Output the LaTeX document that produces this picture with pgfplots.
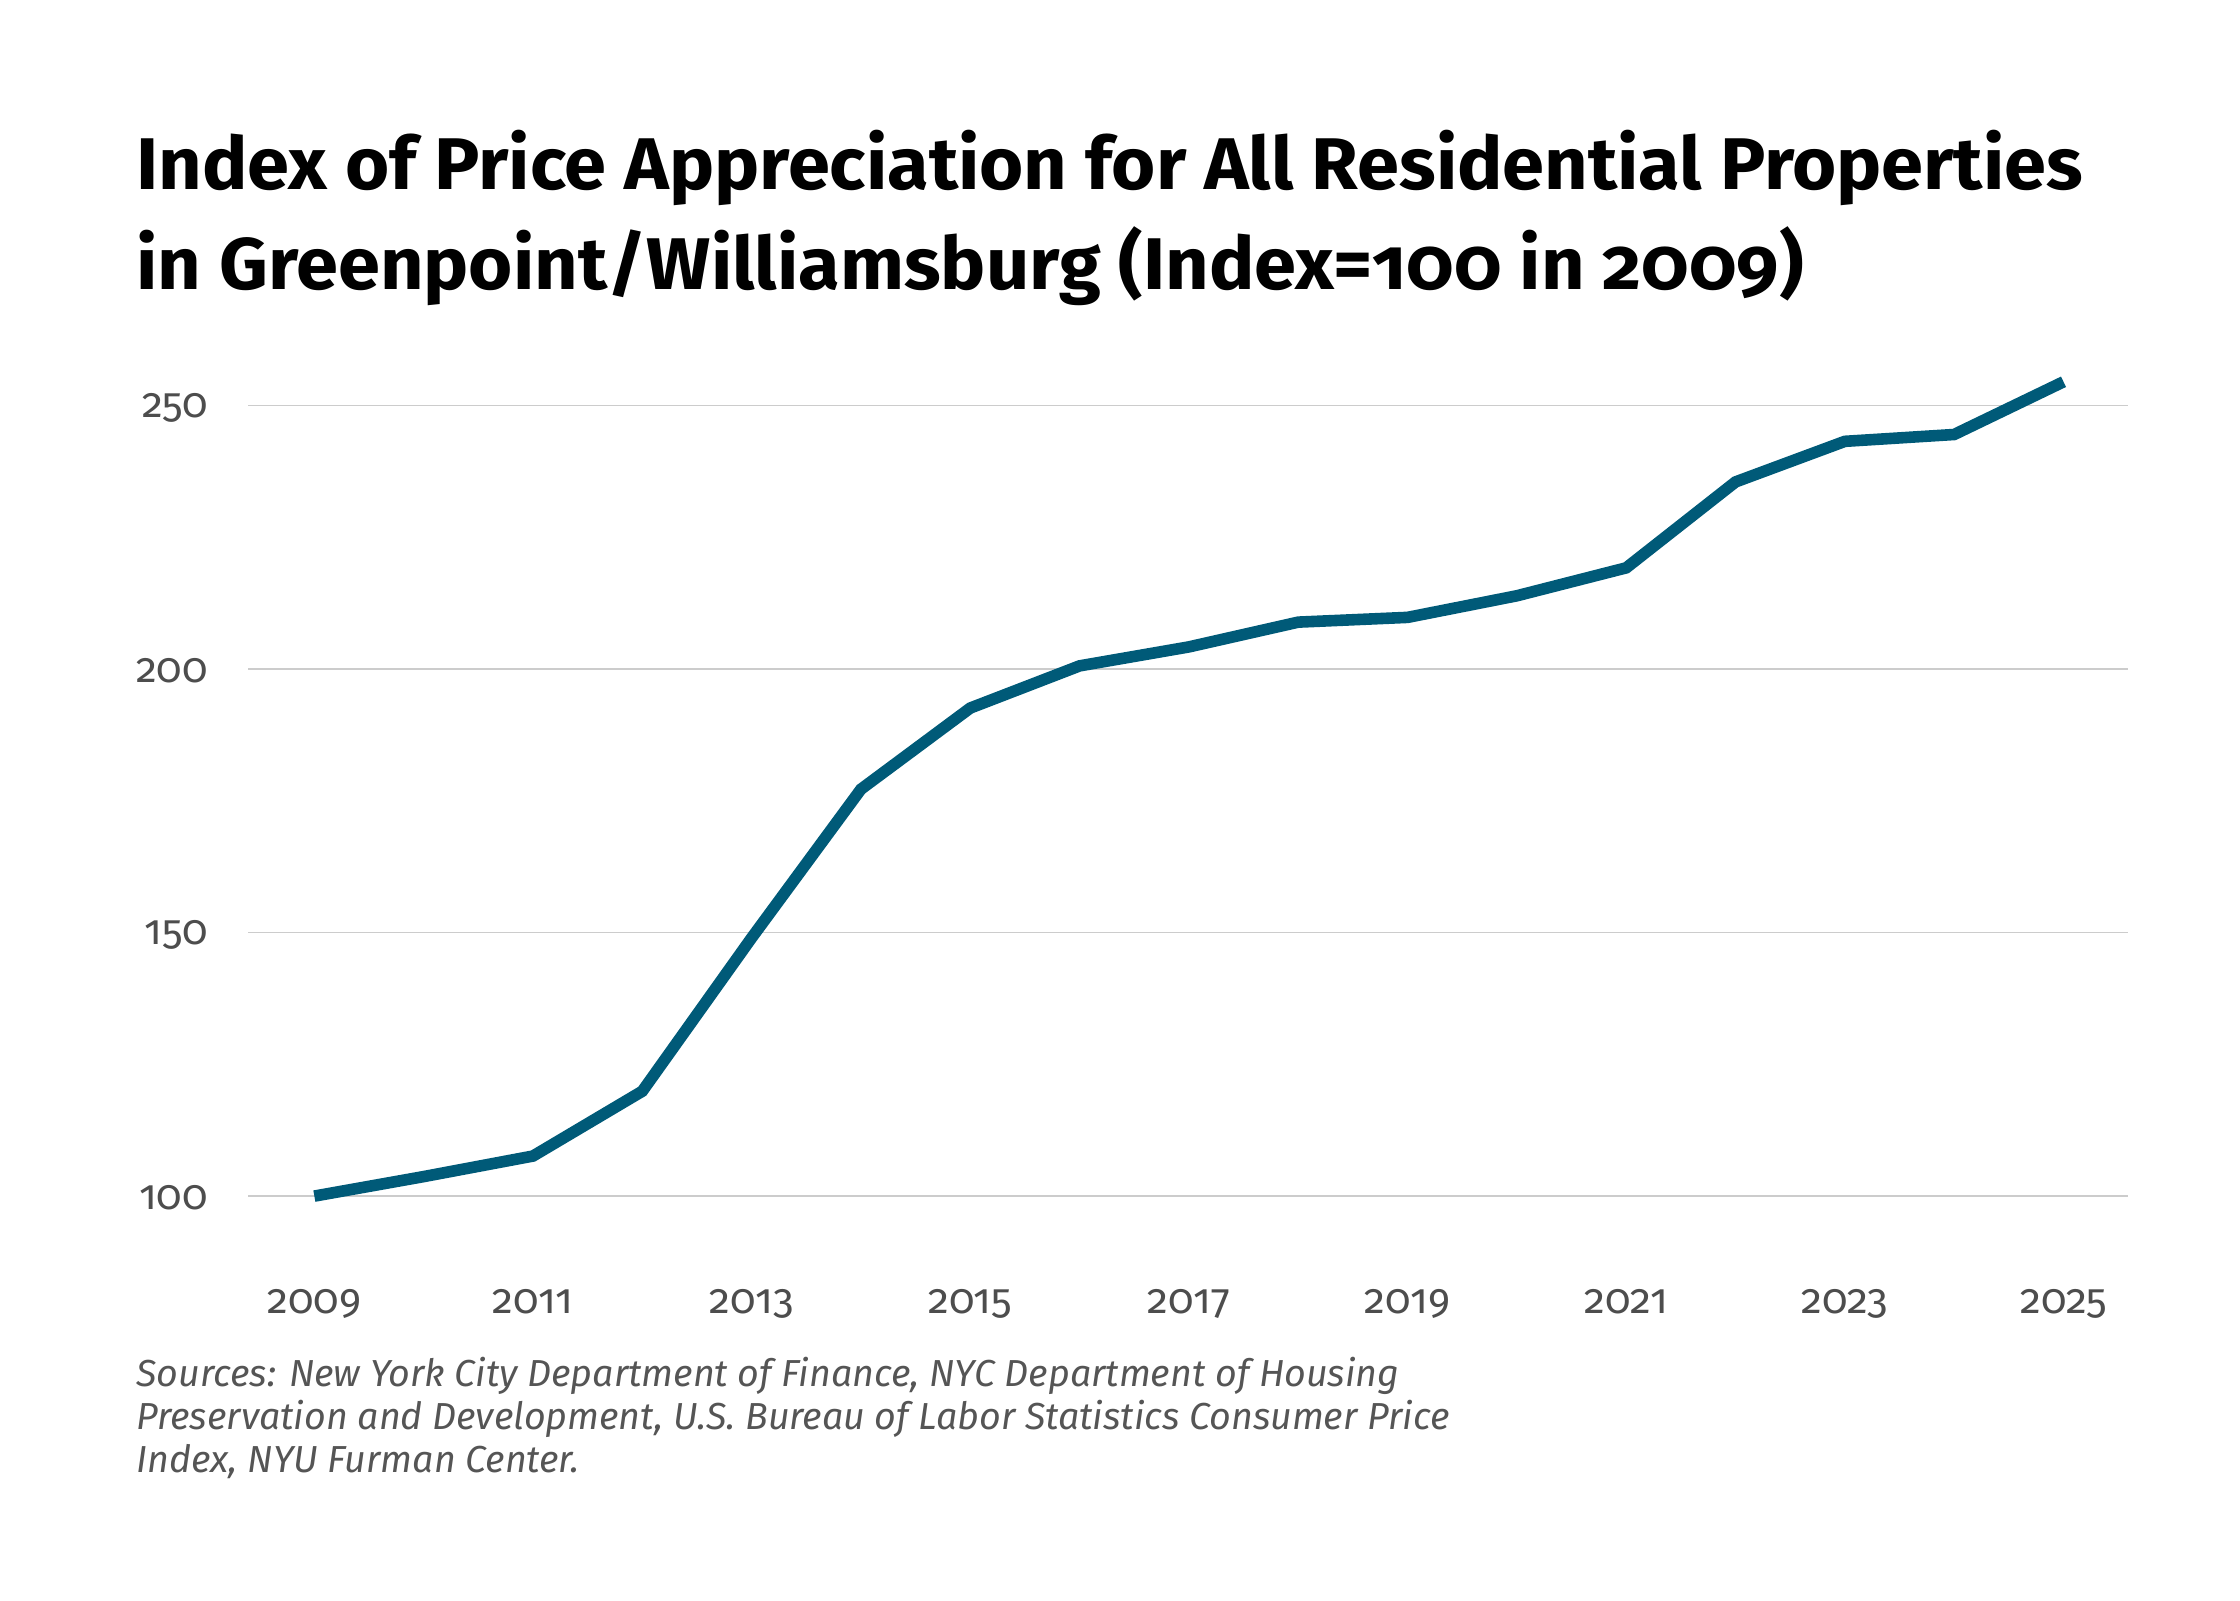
\documentclass[border=0pt]{standalone}
\usepackage{fontspec}
\usepackage{pgfplots}
\pgfplotsset{compat=1.18}
\setmainfont{Fira Sans}[Numbers=OldStyle]
\newfontfamily\titlefont{Fira Sans}[Numbers=OldStyle,FakeStretch=1.035]
\newfontfamily\srcfont{Fira Sans}[Numbers=OldStyle,FakeStretch=1.0]
\definecolor{linec}{HTML}{005A78}
\definecolor{gridc}{HTML}{CCCCCC}
\definecolor{tickc}{HTML}{4D4D4D}
\definecolor{srcc}{HTML}{555555}
\begin{document}
\begin{tikzpicture}
\path[use as bounding box] (0,0) rectangle (560pt,400pt);
\node[anchor=base west,inner sep=0pt] at (33.9pt,352.5pt) {\fontsize{18.3}{25}\titlefont\bfseries Index of Price Appreciation for All Residential Properties};
\node[anchor=base west,inner sep=0pt] at (33.9pt,327.5pt) {\fontsize{18.3}{25}\titlefont\bfseries in Greenpoint/Williamsburg (Index=100 in 2009)};
\begin{axis}[
  at={(62pt,87.8pt)}, anchor=south west,
  scale only axis, width=470pt, height=224pt,
  xmin=2008.393, xmax=2025.59, ymin=90, ymax=260,
  axis line style={draw=none},
  ytick={100,150,200,250},
  xtick={2009,2011,...,2025},
  major tick length=0pt,
  ymajorgrids, grid style={gridc, line width=0.4pt},
  xticklabel style={/pgf/number format/1000 sep={}, font=\fontsize{10.5}{12}\selectfont, text=tickc, yshift=-6.5pt},
  yticklabel style={font=\fontsize{10.5}{12}\selectfont, text=tickc, xshift=-6.5pt, yshift=-0.5pt},
  /pgf/number format/assume math mode=true,
  /pgf/number format/1000 sep={},
  clip=false,
]
\addplot[linec, line width=2.9pt, line join=miter] coordinates {
(2009,100) (2010,103.7) (2011,107.6) (2012,119.9) (2013,149.0) (2014,177.2)
(2015,192.6) (2016,200.6) (2017,204.2) (2018,208.9) (2019,209.8) (2020,213.9)
(2021,219.2) (2022,235.5) (2023,243.2) (2024,244.5) (2025,254.5)
};
\end{axis}
\begin{scope}[every node/.style={anchor=base west,inner sep=0pt,text=srcc,font=\fontsize{9.4}{11}\srcfont\itshape}]
\node at (33.9pt,53.5pt) {Sources: New York City Department of Finance, NYC Department of Housing};
\node at (33.9pt,42.7pt) {Preservation and Development, U.S. Bureau of Labor Statistics Consumer Price};
\node at (33.9pt,31.8pt) {Index, NYU Furman Center.};
\end{scope}
\end{tikzpicture}
\end{document}
